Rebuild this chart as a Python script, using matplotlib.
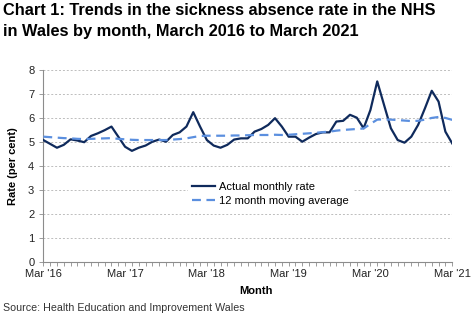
import numpy as np
import matplotlib
matplotlib.use('Agg')
import matplotlib.pyplot as plt

plt.rcParams['font.family'] = ['Liberation Sans', 'DejaVu Sans']

# months since March 2016 (0 = Mar '16, 60 = Mar '21)
months = np.arange(61)
actual = [5.08, 4.92, 4.76, 4.88, 5.11, 5.06, 4.99, 5.25, 5.36, 5.49,
          5.64, 5.22, 4.80, 4.63, 4.76, 4.85, 5.01, 5.10, 5.01, 5.29,
          5.40, 5.64, 6.24, 5.64, 5.08, 4.85, 4.76, 4.88, 5.10, 5.15,
          5.15, 5.43, 5.54, 5.71, 5.99, 5.64, 5.22, 5.22, 5.01, 5.18,
          5.33, 5.40, 5.40, 5.85, 5.88, 6.13, 6.01, 5.57, 6.33, 7.52,
          6.54, 5.57, 5.08, 4.97, 5.22, 5.71, 6.40, 7.13, 6.68, 5.43,
          4.94]
moving_avg = [5.22, 5.20, 5.18, 5.16, 5.15, 5.13, 5.12, 5.13, 5.14, 5.15,
              5.16, 5.13, 5.11, 5.09, 5.08, 5.08, 5.08, 5.08, 5.08, 5.10,
              5.12, 5.15, 5.20, 5.25, 5.26, 5.26, 5.26, 5.26, 5.27, 5.27,
              5.28, 5.29, 5.29, 5.29, 5.30, 5.29, 5.30, 5.32, 5.34, 5.36,
              5.38, 5.41, 5.43, 5.47, 5.50, 5.52, 5.54, 5.56, 5.75, 5.93,
              5.94, 5.93, 5.91, 5.89, 5.87, 5.88, 5.93, 6.00, 6.04, 6.00,
              5.92]
tick_pos = [0, 12, 24, 36, 48, 60]
tick_labels = ["Mar '16", "Mar '17", "Mar '18", "Mar '19", "Mar '20", "Mar '21"]

fig = plt.figure(figsize=(4.74, 3.22), dpi=100)
ax = fig.add_axes([0.0914, 0.186, 0.8626, 0.597])

ax.plot(months, actual, color='#0f2a5c', lw=1.6, label='Actual monthly rate', zorder=3)
ax.plot(months, moving_avg, color='#5b8fdf', lw=1.6, ls=(0, (4, 2.5)),
        label='12 month moving average', zorder=3)

ax.set_xlim(0, 60)
ax.set_ylim(0, 8)
ax.set_yticks(range(0, 9))
ax.set_xticks(tick_pos)
ax.set_xticklabels(tick_labels)
ax.set_xticks(months, minor=True)
ax.yaxis.grid(True, ls=(0, (2, 2)), color='#bdbdbd', lw=0.7)
ax.set_axisbelow(True)

for s in ['top', 'right']:
    ax.spines[s].set_visible(False)
for s in ['left', 'bottom']:
    ax.spines[s].set_color('#8c8c8c')
    ax.spines[s].set_linewidth(0.8)
ax.tick_params(axis='both', which='both', colors='#8c8c8c', labelcolor='#222222',
               labelsize=8, length=3, width=0.6)
ax.tick_params(axis='x', which='major', pad=2)

ax.set_xlabel('Month', fontsize=8, fontweight='bold')
ax.xaxis.set_label_coords(0.52, -0.125)
ax.set_ylabel('Rate (per cent)', fontsize=8, fontweight='bold', labelpad=7)

leg = ax.legend(loc='center', bbox_to_anchor=(0.555, 0.355), fontsize=8,
                frameon=True, handlelength=2.1, handletextpad=0.3,
                labelspacing=0.4, borderpad=0.4)
leg.get_frame().set_edgecolor('none')
leg.get_frame().set_facecolor('white')
leg.get_frame().set_alpha(1)

fig.text(0.006, 0.99, 'Chart 1: Trends in the sickness absence rate in the NHS\n'
         'in Wales by month, March 2016 to March 2021',
         fontsize=11.8, fontweight='bold', va='top', ha='left', linespacing=1.45)
fig.text(0.006, 0.028, 'Source: Health Education and Improvement Wales',
         fontsize=7.7, color='#333333', va='bottom', ha='left')

fig.savefig('out.png', dpi=100)
